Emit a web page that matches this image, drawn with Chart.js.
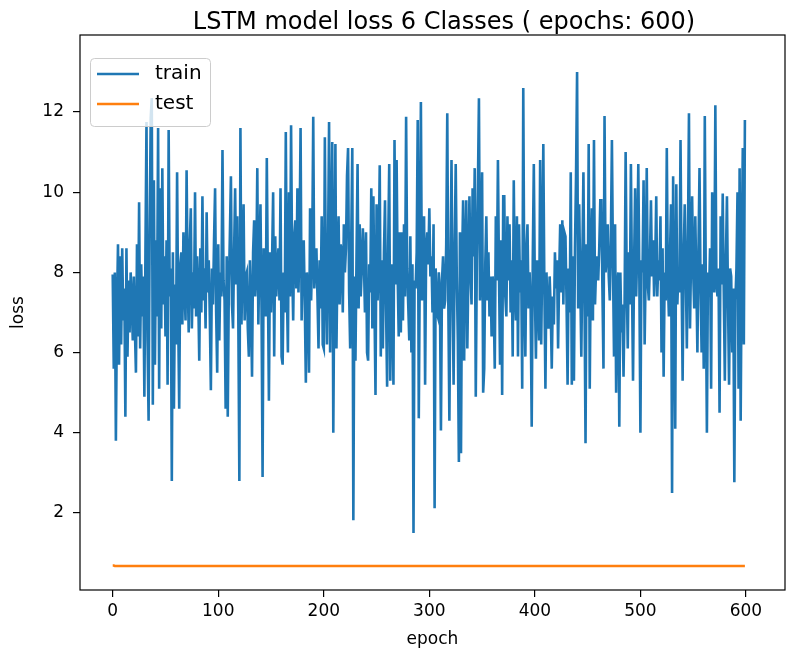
<!DOCTYPE html>
<html>
<head>
<meta charset="utf-8">
<script src="https://cdn.jsdelivr.net/npm/chart.js@4.4.0/dist/chart.umd.min.js"></script>
<style>
  html, body { margin: 0; padding: 0; background: #fff; }
  canvas { display: block; }
</style>
</head>
<body>
<canvas id="chart" width="799" height="655"></canvas>
<script>
const chartTitle = 'LSTM model loss 6 Classes ( epochs: 600)'
const seriesNames = ['train', 'test']
const xTitle = 'epoch'
const yTitle = 'loss'
const xTicks = [0, 100, 200, 300, 400, 500, 600]
const yTicks = [2, 4, 6, 8, 10, 12]

// train loss per epoch (rows of 10 epochs)
const train = [
  7.95, 5.6, 8.0, 3.8, 7.0, 8.7, 5.7, 8.4, 6.2, 8.6,
  6.8, 7.6, 4.4, 8.6, 5.9, 7.8, 6.5, 8.0, 7.3, 6.3,
  7.9, 6.6, 5.5, 8.7, 6.4, 9.75, 6.1, 8.2, 6.9, 7.9,
  4.9, 8.5, 11.75, 6.3, 4.3, 9.0, 11.85, 12.35, 4.7, 10.3,
  5.7, 8.8, 6.9, 11.6, 5.1, 10.1, 6.6, 10.6, 7.2, 8.4,
  6.4, 8.8, 5.2, 11.55, 7.4, 8.1, 2.8, 8.5, 4.6, 7.7,
  6.2, 10.5, 7.0, 4.6, 8.2, 8.5, 6.7, 9.0, 7.6, 6.8,
  10.55, 7.9, 6.5, 8.7, 9.6, 6.6, 8.0, 7.1, 10.0, 6.9,
  8.4, 7.5, 5.8, 8.6, 7.0, 9.9, 7.3, 8.1, 6.6, 9.5,
  7.5, 8.3, 6.9, 5.06, 8.1, 7.2, 8.8, 10.1, 7.0, 5.5,
  8.7, 6.3, 8.0, 7.4, 11.05, 7.8, 7.3, 4.6, 8.4, 4.4,
  7.6, 8.9, 10.4, 7.2, 6.6, 8.5, 10.1, 7.7, 9.4, 6.9,
  2.8, 11.6, 6.7, 8.2, 9.7, 6.8, 7.9, 8.0, 6.6, 5.9,
  8.3, 7.2, 5.4, 8.5, 9.3, 7.4, 8.0, 10.6, 6.7, 8.4,
  9.7, 7.1, 2.9, 8.6, 7.5, 6.9, 10.85, 7.8, 4.8, 8.5,
  7.0, 8.3, 10.0, 5.9, 8.9, 7.4, 8.1, 8.6, 7.3, 10.1,
  5.9, 5.7, 8.0, 7.0, 11.5, 7.6, 6.0, 10.0, 7.4, 11.67,
  8.2, 6.8, 8.9, 9.3, 7.6, 10.1, 7.5, 8.8, 11.6, 6.8,
  8.4, 8.8, 7.2, 5.25, 8.0, 7.5, 5.5, 9.6, 7.3, 8.5,
  11.88, 7.6, 8.2, 8.6, 7.4, 6.1, 8.3, 7.1, 9.4, 6.2,
  6.1, 11.37, 7.8, 6.2, 8.5, 11.75, 6.0, 8.9, 11.25, 4.0,
  8.0, 11.2, 6.1, 8.4, 9.4, 7.2, 8.7, 8.5, 7.0, 9.2,
  8.0, 8.6, 10.4, 11.1, 7.5, 6.1, 8.8, 11.1, 1.82, 7.9,
  5.8, 8.4, 10.7, 7.1, 9.2, 7.4, 8.1, 9.1, 8.3, 7.0,
  9.0, 6.0, 5.8, 8.2, 7.5, 10.1, 6.6, 9.9, 7.2, 4.94,
  9.7, 7.3, 8.4, 10.67, 5.9, 8.3, 6.1, 8.5, 9.8, 7.1,
  5.15, 8.6, 10.7, 5.3, 8.2, 7.2, 5.2, 11.3, 7.7, 10.8,
  7.9, 6.4, 9.0, 6.5, 9.0, 6.8, 9.2, 7.4, 11.88, 8.1,
  7.2, 6.3, 8.9, 6.0, 8.2, 1.5, 7.8, 7.6, 8.5, 11.8,
  4.36, 8.3, 12.25, 7.3, 8.0, 9.4, 5.2, 8.6, 9.0, 8.2,
  9.6, 7.9, 8.4, 7.0, 9.2, 2.12, 8.1, 7.0, 6.9, 8.0,
  7.5, 4.06, 7.8, 8.4, 7.1, 7.3, 8.7, 11.97, 7.2, 4.3,
  8.0, 10.8, 7.6, 5.2, 8.5, 10.7, 7.9, 6.3, 3.27, 9.0,
  3.49, 8.2, 9.8, 5.8, 8.6, 9.8, 6.1, 8.0, 9.9, 8.0,
  7.2, 10.1, 8.4, 10.6, 4.9, 8.3, 10.1, 12.34, 7.3, 8.6,
  10.5, 5.0, 5.6, 8.2, 9.4, 7.3, 8.5, 6.9, 7.9, 6.4,
  7.9, 7.2, 5.6, 9.4, 7.8, 10.8, 8.0, 5.7, 8.8, 4.94,
  9.9, 9.9, 7.4, 6.9, 9.4, 7.8, 9.2, 7.0, 8.3, 5.9,
  10.3, 7.6, 6.8, 9.4, 5.9, 9.2, 7.5, 8.3, 5.1, 12.6,
  7.4, 5.9, 8.6, 9.2, 7.1, 8.0, 7.1, 4.15, 8.3, 10.7,
  7.5, 5.85, 8.3, 7.3, 6.3, 10.8, 6.2, 8.4, 11.2, 7.6,
  5.1, 8.0, 7.0, 6.6, 7.9, 7.1, 5.6, 7.4, 6.7, 8.5,
  7.6, 8.3, 6.1, 7.9, 9.2, 7.5, 9.3, 7.2, 9.0, 8.9,
  7.3, 5.2, 8.1, 7.0, 10.5, 5.2, 8.4, 5.3, 8.6, 10.4,
  13.0, 7.1, 9.7, 7.8, 5.9, 8.3, 10.5, 7.4, 3.74, 8.7,
  6.9, 11.2, 5.1, 8.4, 9.6, 6.8, 11.3, 7.2, 8.1, 8.4,
  7.8, 8.6, 9.8, 9.8, 7.6, 5.6, 11.9, 8.0, 8.4, 9.2,
  7.9, 7.3, 8.8, 11.3, 8.2, 5.9, 9.2, 5.0, 7.6, 8.0,
  4.15, 8.0, 6.5, 7.2, 5.4, 7.2, 11.0, 7.9, 6.1, 8.5,
  7.2, 10.7, 7.8, 5.3, 8.2, 10.1, 7.4, 8.6, 10.7, 7.8,
  4.0, 8.3, 8.0, 10.3, 6.2, 8.1, 10.6, 7.7, 7.3, 8.3,
  9.8, 7.9, 8.8, 7.4, 8.2, 9.9, 7.4, 8.3, 7.8, 9.4,
  6.0, 8.6, 5.4, 8.0, 7.3, 11.1, 7.8, 6.9, 8.4, 9.7,
  2.5, 10.4, 7.4, 4.1, 10.2, 7.2, 8.0, 7.5, 11.3, 7.9,
  5.3, 8.4, 9.7, 8.0, 6.1, 8.7, 11.97, 6.6, 8.4, 9.9,
  8.0, 7.1, 9.4, 7.8, 6.0, 8.5, 10.6, 7.6, 6.0, 8.2,
  5.6, 11.9, 7.6, 4.0, 8.0, 7.4, 8.6, 5.1, 10.0, 7.7,
  7.5, 12.17, 7.8, 7.4, 8.1, 4.5, 9.4, 7.7, 9.97, 7.5,
  5.3, 8.3, 9.9, 7.3, 5.2, 8.1, 7.9, 6.0, 7.6, 2.77,
  7.3, 8.1, 10.0, 5.1, 10.6, 4.3, 8.4, 11.1, 6.2, 11.8
]

// test loss per epoch, flat at about 0.68 (rows of 20 epochs)
const test = [
  0.69, 0.69, 0.68, 0.68, 0.68, 0.68, 0.68, 0.68, 0.68, 0.68, 0.68, 0.68, 0.68, 0.68, 0.68, 0.68, 0.68, 0.68, 0.68, 0.68,
  0.68, 0.68, 0.68, 0.68, 0.68, 0.68, 0.68, 0.68, 0.68, 0.68, 0.68, 0.68, 0.68, 0.68, 0.68, 0.68, 0.68, 0.68, 0.68, 0.68,
  0.68, 0.68, 0.68, 0.68, 0.68, 0.68, 0.68, 0.68, 0.68, 0.68, 0.68, 0.68, 0.68, 0.68, 0.68, 0.68, 0.68, 0.68, 0.68, 0.68,
  0.68, 0.68, 0.68, 0.68, 0.68, 0.68, 0.68, 0.68, 0.68, 0.68, 0.68, 0.68, 0.68, 0.68, 0.68, 0.68, 0.68, 0.68, 0.68, 0.68,
  0.68, 0.68, 0.68, 0.68, 0.68, 0.68, 0.68, 0.68, 0.68, 0.68, 0.68, 0.68, 0.68, 0.68, 0.68, 0.68, 0.68, 0.68, 0.68, 0.68,
  0.68, 0.68, 0.68, 0.68, 0.68, 0.68, 0.68, 0.68, 0.68, 0.68, 0.68, 0.68, 0.68, 0.68, 0.68, 0.68, 0.68, 0.68, 0.68, 0.68,
  0.68, 0.68, 0.68, 0.68, 0.68, 0.68, 0.68, 0.68, 0.68, 0.68, 0.68, 0.68, 0.68, 0.68, 0.68, 0.68, 0.68, 0.68, 0.68, 0.68,
  0.68, 0.68, 0.68, 0.68, 0.68, 0.68, 0.68, 0.68, 0.68, 0.68, 0.68, 0.68, 0.68, 0.68, 0.68, 0.68, 0.68, 0.68, 0.68, 0.68,
  0.68, 0.68, 0.68, 0.68, 0.68, 0.68, 0.68, 0.68, 0.68, 0.68, 0.68, 0.68, 0.68, 0.68, 0.68, 0.68, 0.68, 0.68, 0.68, 0.68,
  0.68, 0.68, 0.68, 0.68, 0.68, 0.68, 0.68, 0.68, 0.68, 0.68, 0.68, 0.68, 0.68, 0.68, 0.68, 0.68, 0.68, 0.68, 0.68, 0.68,
  0.68, 0.68, 0.68, 0.68, 0.68, 0.68, 0.68, 0.68, 0.68, 0.68, 0.68, 0.68, 0.68, 0.68, 0.68, 0.68, 0.68, 0.68, 0.68, 0.68,
  0.68, 0.68, 0.68, 0.68, 0.68, 0.68, 0.68, 0.68, 0.68, 0.68, 0.68, 0.68, 0.68, 0.68, 0.68, 0.68, 0.68, 0.68, 0.68, 0.68,
  0.68, 0.68, 0.68, 0.68, 0.68, 0.68, 0.68, 0.68, 0.68, 0.68, 0.68, 0.68, 0.68, 0.68, 0.68, 0.68, 0.68, 0.68, 0.68, 0.68,
  0.68, 0.68, 0.68, 0.68, 0.68, 0.68, 0.68, 0.68, 0.68, 0.68, 0.68, 0.68, 0.68, 0.68, 0.68, 0.68, 0.68, 0.68, 0.68, 0.68,
  0.68, 0.68, 0.68, 0.68, 0.68, 0.68, 0.68, 0.68, 0.68, 0.68, 0.68, 0.68, 0.68, 0.68, 0.68, 0.68, 0.68, 0.68, 0.68, 0.68,
  0.68, 0.68, 0.68, 0.68, 0.68, 0.68, 0.68, 0.68, 0.68, 0.68, 0.68, 0.68, 0.68, 0.68, 0.68, 0.68, 0.68, 0.68, 0.68, 0.68,
  0.68, 0.68, 0.68, 0.68, 0.68, 0.68, 0.68, 0.68, 0.68, 0.68, 0.68, 0.68, 0.68, 0.68, 0.68, 0.68, 0.68, 0.68, 0.68, 0.68,
  0.68, 0.68, 0.68, 0.68, 0.68, 0.68, 0.68, 0.68, 0.68, 0.68, 0.68, 0.68, 0.68, 0.68, 0.68, 0.68, 0.68, 0.68, 0.68, 0.68,
  0.68, 0.68, 0.68, 0.68, 0.68, 0.68, 0.68, 0.68, 0.68, 0.68, 0.68, 0.68, 0.68, 0.68, 0.68, 0.68, 0.68, 0.68, 0.68, 0.68,
  0.68, 0.68, 0.68, 0.68, 0.68, 0.68, 0.68, 0.68, 0.68, 0.68, 0.68, 0.68, 0.68, 0.68, 0.68, 0.68, 0.68, 0.68, 0.68, 0.68,
  0.68, 0.68, 0.68, 0.68, 0.68, 0.68, 0.68, 0.68, 0.68, 0.68, 0.68, 0.68, 0.68, 0.68, 0.68, 0.68, 0.68, 0.68, 0.68, 0.68,
  0.68, 0.68, 0.68, 0.68, 0.68, 0.68, 0.68, 0.68, 0.68, 0.68, 0.68, 0.68, 0.68, 0.68, 0.68, 0.68, 0.68, 0.68, 0.68, 0.68,
  0.68, 0.68, 0.68, 0.68, 0.68, 0.68, 0.68, 0.68, 0.68, 0.68, 0.68, 0.68, 0.68, 0.68, 0.68, 0.68, 0.68, 0.68, 0.68, 0.68,
  0.68, 0.68, 0.68, 0.68, 0.68, 0.68, 0.68, 0.68, 0.68, 0.68, 0.68, 0.68, 0.68, 0.68, 0.68, 0.68, 0.68, 0.68, 0.68, 0.68,
  0.68, 0.68, 0.68, 0.68, 0.68, 0.68, 0.68, 0.68, 0.68, 0.68, 0.68, 0.68, 0.68, 0.68, 0.68, 0.68, 0.68, 0.68, 0.68, 0.68,
  0.68, 0.68, 0.68, 0.68, 0.68, 0.68, 0.68, 0.68, 0.68, 0.68, 0.68, 0.68, 0.68, 0.68, 0.68, 0.68, 0.68, 0.68, 0.68, 0.68,
  0.68, 0.68, 0.68, 0.68, 0.68, 0.68, 0.68, 0.68, 0.68, 0.68, 0.68, 0.68, 0.68, 0.68, 0.68, 0.68, 0.68, 0.68, 0.68, 0.68,
  0.68, 0.68, 0.68, 0.68, 0.68, 0.68, 0.68, 0.68, 0.68, 0.68, 0.68, 0.68, 0.68, 0.68, 0.68, 0.68, 0.68, 0.68, 0.68, 0.68,
  0.68, 0.68, 0.68, 0.68, 0.68, 0.68, 0.68, 0.68, 0.68, 0.68, 0.68, 0.68, 0.68, 0.68, 0.68, 0.68, 0.68, 0.68, 0.68, 0.68,
  0.68, 0.68, 0.68, 0.68, 0.68, 0.68, 0.68, 0.68, 0.68, 0.68, 0.68, 0.68, 0.68, 0.68, 0.68, 0.68, 0.68, 0.68, 0.68, 0.68
]

const colors = ['#1f77b4', '#ff7f0e']
const font = '"DejaVu Sans", sans-serif'

// legend, title and the four spines, drawn the matplotlib way
const frame = {
    id: 'frame',
    afterDatasetsDraw(chart) {
        const ctx = chart.ctx
        ctx.save()
        ctx.beginPath()
        ctx.roundRect(90.5, 58.5, 120, 68, 4)
        ctx.fillStyle = 'rgba(255,255,255,0.8)'
        ctx.fill()
        ctx.strokeStyle = '#cccccc'
        ctx.lineWidth = 1
        ctx.stroke()
        seriesNames.forEach((name, i) => {
            const y = 74 + i * 30
            ctx.beginPath()
            ctx.moveTo(97, y)
            ctx.lineTo(139, y)
            ctx.strokeStyle = colors[i]
            ctx.lineWidth = 2.6
            ctx.stroke()
            ctx.fillStyle = '#000'
            ctx.font = '20px ' + font
            ctx.textBaseline = 'middle'
            ctx.textAlign = 'left'
            ctx.fillText(name, 155, y)
        })
        ctx.restore()
    },
    afterDraw(chart) {
        const {ctx, chartArea: a} = chart
        ctx.save()
        ctx.strokeStyle = '#000'
        ctx.lineWidth = 1.2
        ctx.strokeRect(a.left, a.top, a.right - a.left, a.bottom - a.top)
        ctx.fillStyle = '#000'
        ctx.font = '24px ' + font
        ctx.textAlign = 'center'
        ctx.textBaseline = 'middle'
        ctx.fillText(chartTitle, 444, 23)
        ctx.restore()
    }
}

const points = arr => arr.map((v, i) => ({x: i, y: v}))

new Chart(document.getElementById('chart'), {
    type: 'line',
    data: {
        datasets: seriesNames.map((name, i) => ({
            label: name,
            data: points(i === 0 ? train : test),
            borderColor: colors[i],
            borderWidth: 2.6,
            pointRadius: 0,
            tension: 0,
            fill: false
        }))
    },
    options: {
        responsive: false,
        animation: false,
        devicePixelRatio: 1,
        layout: {padding: {top: 35, right: 14, left: 0, bottom: 0}},
        plugins: {legend: {display: false}, title: {display: false}, tooltip: {enabled: false}},
        scales: {
            x: {
                type: 'linear',
                min: -31,
                max: 637,
                afterBuildTicks: s => { s.ticks = xTicks.map(v => ({value: v})) },
                afterFit: s => { s.height = 65 },
                grid: {drawOnChartArea: false, drawTicks: true, tickLength: 7, color: '#000', lineWidth: 1.2},
                border: {display: false},
                ticks: {color: '#000', font: {family: font, size: 17}, padding: 4, maxRotation: 0},
                title: {display: true, text: xTitle, color: '#000', font: {family: font, size: 17}, padding: {top: 0, bottom: 5}}
            },
            y: {
                min: 0.08,
                max: 13.92,
                afterBuildTicks: s => { s.ticks = yTicks.map(v => ({value: v})) },
                afterFit: s => { s.width = 80 },
                grid: {drawOnChartArea: false, drawTicks: true, tickLength: 7, color: '#000', lineWidth: 1.2},
                border: {display: false},
                ticks: {color: '#000', font: {family: font, size: 17}, padding: 9},
                title: {display: true, text: yTitle, color: '#000', font: {family: font, size: 17}, padding: {top: 8, bottom: 0}}
            }
        }
    },
    plugins: [frame]
})
</script>
</body>
</html>
